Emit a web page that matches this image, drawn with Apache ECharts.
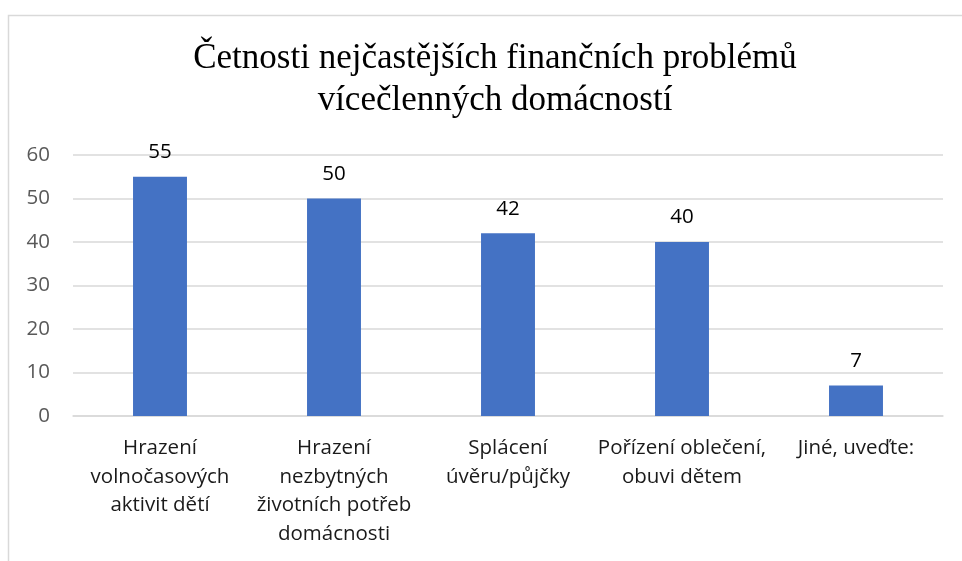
<!DOCTYPE html>
<html>
<head>
<meta charset="utf-8">
<script src="https://cdn.jsdelivr.net/npm/echarts@6/dist/echarts.min.js"></script>
<style>
html,body{margin:0;padding:0;background:#fff;}
#chart{width:962px;height:561px;}
</style>
</head>
<body>
<div id="chart"></div>
<script>
const titleText = 'Četnosti nejčastějších finančních problémů\nvícečlenných domácností';
const categories = [
  'Hrazení\nvolnočasových\naktivit dětí',
  'Hrazení\nnezbytných\nživotních potřeb\ndomácnosti',
  'Splácení\núvěru/půjčky',
  'Pořízení oblečení,\nobuvi dětem',
  'Jiné, uveďte:'
];
const values = [55, 50, 42, 40, 7];
const yTicks = [0, 10, 20, 30, 40, 50, 60];

const chart = echarts.init(document.getElementById('chart'), null, {renderer: 'canvas'});
chart.setOption({
  animation: false,
  backgroundColor: '#ffffff',
  title: {
    text: titleText,
    left: 490,
    textAlign: 'center',
    top: 33,
    textStyle: {
      fontFamily: 'Liberation Serif',
      fontSize: 35,
      fontWeight: 'normal',
      color: '#000000',
      lineHeight: 42
    }
  },
  graphic: [{
    type: 'rect',
    shape: {x: 8.5, y: 15.5, width: 1000, height: 600},
    style: {fill: 'none', stroke: '#d9d9d9', lineWidth: 1.5},
    silent: true
  }],
  grid: {left: 73, right: 19, top: 155, bottom: 145},
  xAxis: {
    type: 'category',
    data: categories,
    axisLine: {show: true, lineStyle: {color: '#d9d9d9', width: 1.5}},
    axisTick: {show: false},
    axisLabel: {
      interval: 0,
      margin: 18,
      fontFamily: 'Open Sans',
      fontSize: 20.5,
      lineHeight: 28.5,
      color: '#1a1a1a'
    }
  },
  yAxis: {
    type: 'value',
    min: yTicks[0],
    max: yTicks[yTicks.length - 1],
    interval: 10,
    axisLine: {show: false},
    axisTick: {show: false},
    splitLine: {lineStyle: {color: '#d9d9d9', width: 1.5}},
    axisLabel: {
      margin: 23,
      fontFamily: 'Open Sans',
      fontSize: 20.5,
      color: '#595959'
    }
  },
  series: [{
    type: 'bar',
    data: values,
    barWidth: '31%',
    itemStyle: {color: '#4472c4'},
    label: {
      show: true,
      position: 'top',
      distance: 14,
      fontFamily: 'Open Sans',
      fontSize: 20.5,
      color: '#000000'
    }
  }]
});
</script>
</body>
</html>
